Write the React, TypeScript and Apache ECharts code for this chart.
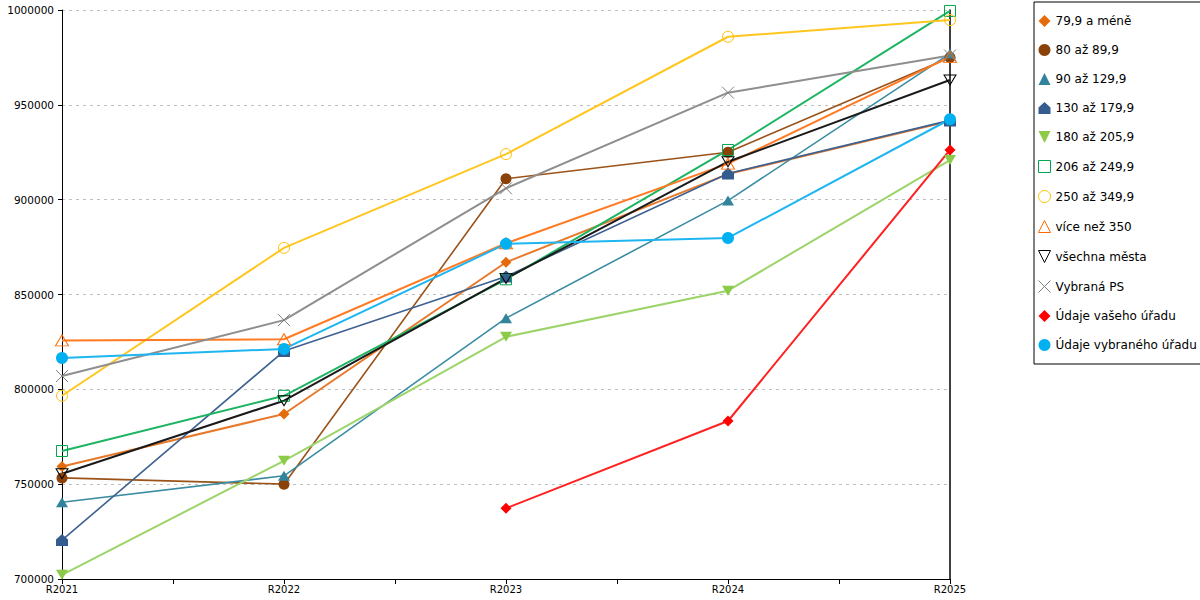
import React, { useEffect, useRef } from "react";
import * as echarts from "echarts";

const categories = ["R2021", "R2022", "R2023", "R2024", "R2025"];
const yTicks = { min: 700000, max: 1000000, step: 50000 };

const s799 = [759300, 787000, 867000, 913500, 941500];
const s80 = [753300, 750000, 911000, 925000, 975000];
const s90 = [740500, 754400, 837500, 899500, 977000];
const s130 = [720500, 820200, 859500, 913800, 941800];
const s180 = [702200, 762300, 827700, 852000, 920900];
const s206 = [767500, 796600, 858000, 926200, 999500];
const s250 = [796600, 874600, 924000, 985900, 994700];
const s350 = [825800, 826400, 877000, 919000, 975300];
const sAll = [755500, 794000, 858500, 920000, 963100];
const sPS = [807000, 836500, 906000, 956400, 976000];
const sVas = [null, null, 737300, 783300, 926200];
const sVyb = [816500, 821300, 876700, 879800, 942400];

const names = [
  "79,9 a méně",
  "80 až 89,9",
  "90 až 129,9",
  "130 až 179,9",
  "180 až 205,9",
  "206 až 249,9",
  "250 až 349,9",
  "více než 350",
  "všechna města",
  "Vybraná PS",
  "Údaje vašeho úřadu",
  "Údaje vybraného úřadu",
];

const TRANSPARENT = "rgba(255,255,255,0)";
const INV_TRI = "path://M0,0L10,0L5,10Z";
const HOUSE = "path://M5,0L10,4.5L10,10L0,10L0,4.5Z";
const CROSS = "path://M0,0L10,10M10,0L0,10";

type Def = {
  name: string;
  data: (number | null)[];
  line: string;
  mark: string;
  symbol: string;
  size: number;
  hollow?: boolean;
  width: number;
};

const defs: Def[] = [
  { name: names[0], data: s799, line: "#E8792A", mark: "#E46C0A", symbol: "diamond", size: 11, width: 2 },
  { name: names[1], data: s80, line: "#9A5218", mark: "#8B4209", symbol: "circle", size: 11, width: 1.6 },
  { name: names[2], data: s90, line: "#3B8CA2", mark: "#31849B", symbol: "triangle", size: 12, width: 1.6 },
  { name: names[3], data: s130, line: "#3E6190", mark: "#355C8F", symbol: HOUSE, size: 12, width: 1.6 },
  { name: names[4], data: s180, line: "#9CD46A", mark: "#8CCB47", symbol: INV_TRI, size: 12, width: 2 },
  { name: names[5], data: s206, line: "#1DB462", mark: "#00A650", symbol: "rect", size: 11, hollow: true, width: 2 },
  { name: names[6], data: s250, line: "#FFC61E", mark: "#FFC000", symbol: "circle", size: 11, hollow: true, width: 2 },
  { name: names[7], data: s350, line: "#FF7A22", mark: "#FF6A00", symbol: "triangle", size: 13, hollow: true, width: 2 },
  { name: names[8], data: sAll, line: "#1A1A1A", mark: "#000000", symbol: INV_TRI, size: 12, hollow: true, width: 2 },
  { name: names[9], data: sPS, line: "#8E8E8E", mark: "#7F7F7F", symbol: CROSS, size: 12, hollow: true, width: 2 },
  { name: names[10], data: sVas, line: "#FF2020", mark: "#FF0000", symbol: "diamond", size: 11, width: 2 },
  { name: names[11], data: sVyb, line: "#1EB6F0", mark: "#00B0F0", symbol: "circle", size: 12, width: 2 },
];

export default function App() {
  const ref = useRef<HTMLDivElement>(null);

  useEffect(() => {
    document.body.style.margin = "0";
    if (!ref.current) return;
    const chart = echarts.init(ref.current, undefined, { renderer: "svg" });

    const itemStyleOf = (d: Def) =>
      d.hollow
        ? { color: TRANSPARENT, borderColor: d.mark, borderWidth: 1 }
        : { color: d.mark, borderWidth: 0 };

    const series = defs.map((d) => ({
      name: d.name,
      type: "line",
      data: d.data
        .map((v, i) => (v == null ? null : [i, v]))
        .filter((p) => p !== null),
      symbol: d.symbol,
      symbolSize: d.symbol === "triangle" || d.symbol === INV_TRI ? [d.size, d.size - 2] : d.size,
      showAllSymbol: true,
      lineStyle: { color: d.line, width: d.width },
      itemStyle: itemStyleOf(d),
      color: d.line,
      emphasis: { disabled: true },
    }));

    chart.setOption({
      animation: false,
      textStyle: { fontFamily: "DejaVu Sans" },
      grid: {
        left: 62,
        right: 250,
        top: 10,
        bottom: 21,
        containLabel: false,
        outerBoundsMode: "none",
      },
      legend: {
        orient: "vertical",
        left: 1034,
        top: 2,
        padding: [13, 4, 13, 4],
        itemGap: 17,
        itemWidth: 12,
        itemHeight: 12,
        borderColor: "#000",
        borderWidth: 1,
        selectedMode: false,
        textStyle: { fontFamily: "DejaVu Sans", fontSize: 12, color: "#000" },
        data: defs.map((d) => ({
          name: d.name,
          icon: d.symbol,
          itemStyle: itemStyleOf(d),
        })),
      },
      xAxis: {
        type: "value",
        min: 0,
        max: categories.length - 1,
        interval: 0.5,
        axisLine: { show: true, lineStyle: { color: "#000", width: 1 } },
        axisTick: { show: true, length: 5, lineStyle: { color: "#000" } },
        axisLabel: {
          color: "#000",
          fontSize: 10,
          margin: 5,
          showMaxLabel: true,
          showMinLabel: true,
          formatter: (v: number) => (Number.isInteger(v) ? categories[v] : ""),
        },
        splitLine: { show: false },
      },
      yAxis: [
        {
          type: "value",
          min: yTicks.min,
          max: yTicks.max,
          interval: yTicks.step,
          axisLine: { show: true, lineStyle: { color: "#000", width: 1 } },
          axisTick: { show: true, length: 4, lineStyle: { color: "#000" } },
          axisLabel: {
            color: "#000",
            fontSize: 10.5,
            margin: 8,
            formatter: (v: number) => String(v),
          },
          splitLine: { show: true, lineStyle: { color: "#BFBFBF", type: [3, 4], width: 1 } },
        },
        {
          type: "value",
          position: "right",
          min: yTicks.min,
          max: yTicks.max,
          interval: yTicks.step,
          axisLine: { show: true, lineStyle: { color: "#000", width: 1.5 } },
          axisTick: { show: false },
          axisLabel: { show: false },
          splitLine: { show: false },
        },
      ],
      series,
    });

    return () => chart.dispose();
  }, []);

  return <div ref={ref} style={{ width: 1200, height: 600 }} />;
}
